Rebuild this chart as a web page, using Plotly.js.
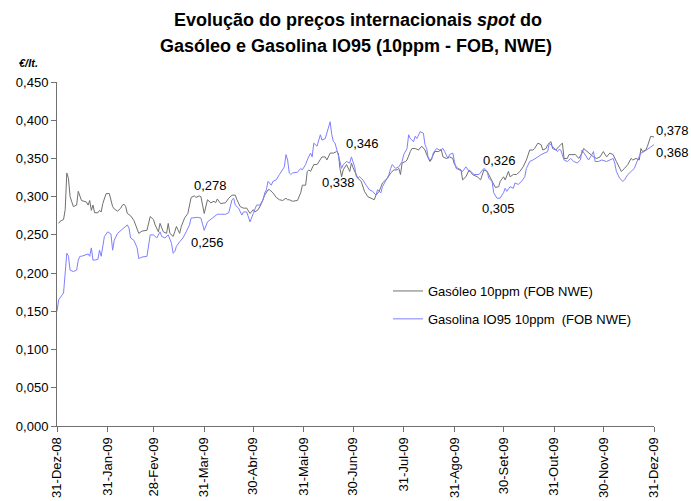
<!DOCTYPE html>
<html>
<head>
<meta charset="utf-8">
<script src="https://cdn.plot.ly/plotly-3.0.1.min.js"></script>
<style>html,body{margin:0;padding:0;background:#fff;}#chart{width:691px;height:501px;}</style>
</head>
<body>
<div id="chart"></div>
<script>
// Data: day offsets from 31-Dez-08 and prices (€/lt.)
const dataInicial = '2008-12-31';
const diasGasoleo = [1,2,4,5,6,7,8,10,12,13,15,18,19,20,21,22,23,25,26,27,28,30,32,34,35,37,39,40,41,42,43,44,45,47,49,50,52,55,57,59,60,62,63,65,67,68,69,71,72,73,75,76,78,80,82,84,85,87,88,89,90,92,94,96,97,98,100,103,105,107,109,110,112,114,116,118,120,121,123,125,127,129,130,132,134,136,138,140,141,142,144,147,149,150,152,153,154,155,157,159,161,162,164,165,167,169,171,172,173,174,175,177,179,180,181,183,184,186,188,190,192,194,195,197,199,202,204,206,208,209,210,211,213,214,216,217,219,221,223,225,226,228,229,231,233,235,236,238,240,242,243,245,247,248,250,252,254,257,259,261,263,264,266,268,270,271,273,274,276,277,279,281,283,285,287,289,291,292,294,296,297,299,300,302,303,305,307,309,310,312,313,315,317,319,321,322,324,326,328,330,332,334,336,338,340,342,344,345,347,349,351,352,354,356,357,358,360,361,363,365];
const gasoleo = [0.265,0.268,0.270,0.283,0.331,0.324,0.300,0.287,0.289,0.307,0.295,0.293,0.289,0.295,0.282,0.289,0.279,0.279,0.282,0.280,0.291,0.304,0.304,0.287,0.284,0.281,0.285,0.289,0.290,0.287,0.278,0.276,0.275,0.269,0.257,0.252,0.255,0.256,0.274,0.270,0.263,0.254,0.265,0.254,0.252,0.265,0.252,0.248,0.254,0.261,0.252,0.261,0.272,0.278,0.299,0.301,0.299,0.301,0.300,0.287,0.278,0.296,0.292,0.294,0.292,0.297,0.291,0.292,0.298,0.302,0.302,0.296,0.287,0.285,0.285,0.278,0.283,0.280,0.283,0.291,0.302,0.309,0.309,0.305,0.299,0.296,0.295,0.298,0.296,0.296,0.294,0.295,0.305,0.315,0.315,0.333,0.335,0.333,0.342,0.342,0.348,0.352,0.352,0.348,0.357,0.357,0.359,0.357,0.337,0.326,0.335,0.342,0.333,0.344,0.338,0.329,0.324,0.320,0.307,0.300,0.298,0.296,0.302,0.307,0.318,0.324,0.331,0.335,0.335,0.337,0.329,0.344,0.346,0.348,0.359,0.363,0.363,0.361,0.366,0.361,0.355,0.346,0.350,0.359,0.359,0.361,0.352,0.350,0.352,0.350,0.342,0.337,0.335,0.322,0.326,0.335,0.329,0.326,0.322,0.335,0.333,0.329,0.322,0.312,0.313,0.320,0.326,0.322,0.333,0.326,0.329,0.329,0.333,0.339,0.348,0.361,0.361,0.363,0.370,0.368,0.361,0.363,0.368,0.372,0.363,0.361,0.366,0.370,0.350,0.350,0.355,0.355,0.355,0.350,0.357,0.363,0.359,0.355,0.352,0.350,0.352,0.359,0.352,0.357,0.355,0.346,0.337,0.333,0.337,0.342,0.350,0.348,0.350,0.348,0.363,0.359,0.361,0.366,0.379,0.378];
const diasGasolina = [0,1,3,4,5,6,7,8,10,12,13,14,15,17,19,20,21,22,23,25,26,27,29,31,33,34,35,37,40,41,43,44,45,47,49,50,52,55,56,57,59,61,63,64,66,68,70,71,72,73,75,77,79,81,82,84,86,88,89,90,92,94,96,98,100,103,105,107,108,109,111,113,114,116,118,120,122,124,126,127,128,129,131,132,134,136,138,139,140,141,142,143,144,147,149,150,152,153,155,156,157,159,161,162,164,166,167,168,169,170,171,173,174,175,177,179,180,181,182,183,184,185,187,189,191,193,195,196,198,199,202,203,204,205,207,209,211,212,214,215,216,218,219,220,222,224,225,226,227,229,230,232,234,236,237,239,240,242,243,244,246,248,250,252,253,255,258,260,261,263,264,266,267,269,271,272,273,274,275,277,279,280,282,284,286,287,289,291,292,294,296,298,300,301,303,304,306,307,308,310,312,314,316,318,320,321,323,325,327,328,329,331,333,336,338,340,341,342,344,346,347,349,351,353,355,356,357,359,361,363,365];
const gasolina = [0.150,0.165,0.171,0.174,0.200,0.226,0.222,0.204,0.202,0.204,0.217,0.222,0.222,0.224,0.225,0.222,0.233,0.217,0.217,0.218,0.230,0.222,0.248,0.254,0.251,0.230,0.243,0.252,0.257,0.259,0.263,0.259,0.246,0.243,0.233,0.219,0.221,0.222,0.235,0.250,0.250,0.246,0.254,0.248,0.246,0.250,0.239,0.226,0.228,0.235,0.241,0.246,0.254,0.263,0.272,0.273,0.273,0.272,0.265,0.256,0.267,0.270,0.274,0.277,0.277,0.277,0.279,0.296,0.298,0.289,0.285,0.276,0.280,0.280,0.267,0.278,0.289,0.289,0.296,0.305,0.309,0.320,0.315,0.320,0.322,0.329,0.337,0.339,0.355,0.348,0.331,0.329,0.331,0.332,0.337,0.335,0.342,0.348,0.357,0.352,0.370,0.366,0.381,0.374,0.376,0.392,0.398,0.381,0.372,0.370,0.363,0.346,0.337,0.342,0.346,0.344,0.352,0.346,0.339,0.326,0.324,0.326,0.322,0.315,0.309,0.307,0.302,0.309,0.305,0.313,0.326,0.329,0.337,0.342,0.337,0.339,0.346,0.355,0.363,0.381,0.376,0.372,0.379,0.376,0.385,0.383,0.368,0.363,0.350,0.348,0.357,0.363,0.361,0.363,0.359,0.350,0.355,0.357,0.346,0.337,0.335,0.333,0.339,0.333,0.333,0.329,0.329,0.335,0.337,0.333,0.324,0.320,0.305,0.298,0.298,0.302,0.305,0.311,0.307,0.313,0.311,0.318,0.316,0.320,0.326,0.337,0.346,0.348,0.349,0.352,0.355,0.357,0.359,0.370,0.366,0.363,0.359,0.362,0.361,0.348,0.346,0.350,0.346,0.344,0.348,0.361,0.355,0.348,0.355,0.359,0.346,0.346,0.348,0.346,0.348,0.350,0.344,0.333,0.324,0.320,0.322,0.329,0.333,0.337,0.348,0.352,0.357,0.359,0.362,0.366,0.368];

const tickDatas = ['2008-12-31','2009-01-31','2009-02-28','2009-03-31','2009-04-30','2009-05-31','2009-06-30','2009-07-31','2009-08-31','2009-09-30','2009-10-31','2009-11-30','2009-12-31'];
const tickLabels = ['31-Dez-08','31-Jan-09','28-Fev-09','31-Mar-09','30-Abr-09','31-Mai-09','30-Jun-09','31-Jul-09','31-Ago-09','30-Set-09','31-Out-09','30-Nov-09','31-Dez-09'];

// value labels shown on the chart
const rotulos = ['0,278','0,256','0,338','0,346','0,326','0,305'];
const rotulosFinais = ['0,378','0,368'];

function dia(d){
  const t = Date.UTC(2008,11,31) + d*86400000;
  return new Date(t).toISOString().slice(0,19).replace('T',' ');
}

const FONT = 'Liberation Sans, Arial, Helvetica, sans-serif';

const traces = [
  {x: diasGasoleo.map(dia), y: gasoleo, type:'scatter', mode:'lines',
   name:'Gasóleo 10ppm (FOB NWE)', legendgroup:'a',
   line:{color:'#707070', width:1}},
  {x: diasGasolina.map(dia), y: gasolina, type:'scatter', mode:'lines',
   name:'Gasolina IO95 10ppm  (FOB NWE)', legendgroup:'b',
   line:{color:'#7f7fff', width:1}}
];

// label positions (day offset, y) placement only
const posRotulos = [[94.1,0.3145],[92.3,0.240],[172.4,0.318],[187,0.369],[270.8,0.347],[270.2,0.284]];
const ann = rotulos.map((t,i)=>({x: dia(posRotulos[i][0]), y: posRotulos[i][1], xref:'x', yref:'y', yanchor:'middle', text:t, showarrow:false, font:{family:FONT,size:13,color:'#000'}}));
ann.push({x:1.0, y:(426-130.7)/344, xref:'paper', yref:'paper', xanchor:'left', yanchor:'middle', text:rotulosFinais[0], showarrow:false, font:{family:FONT,size:13,color:'#000'}});
ann.push({x:1.0, y:(426-152)/344, xref:'paper', yref:'paper', xanchor:'left', yanchor:'middle', text:rotulosFinais[1], showarrow:false, font:{family:FONT,size:13,color:'#000'}});
ann.push({x:(358-57)/597, y:(426-20)/344, xref:'paper', yref:'paper', xanchor:'center', yanchor:'middle', text:'<b>Evolução do preços internacionais <i>spot</i> do</b>', showarrow:false, font:{family:FONT,size:18,color:'#000'}});
ann.push({x:(356-57)/597, y:(426-46)/344, xref:'paper', yref:'paper', xanchor:'center', yanchor:'middle', text:'<b>Gasóleo e Gasolina IO95 (10ppm - FOB, NWE)</b>', showarrow:false, font:{family:FONT,size:18,color:'#000'}});
ann.push({x:(17-57)/597, y:(426-63)/344, xref:'paper', yref:'paper', xanchor:'left', yanchor:'middle', text:'<b><i>€/lt.</i></b>', showarrow:false, font:{family:FONT,size:11,color:'#000'}});

const layout = {
  width:691, height:501,
  margin:{l:57, r:37, t:82, b:75},
  paper_bgcolor:'#fff', plot_bgcolor:'#fff',
  separators:',.',
  showlegend:true,
  legend:{x:(388-57)/597, y:(426-276)/344, xanchor:'left', yanchor:'top', bgcolor:'rgba(0,0,0,0)',
          font:{family:FONT,size:13,color:'#000'}, traceorder:'grouped', tracegroupgap:8},
  xaxis:{type:'date', range:[dia(0), dia(365)], showgrid:false, zeroline:false,
         showline:true, linecolor:'#707070', linewidth:1,
         tickmode:'array', tickvals:tickDatas, ticktext:tickLabels, tickangle:-90,
         ticks:'outside', ticklen:5, tickcolor:'#707070',
         tickfont:{family:FONT,size:13,color:'#000'}},
  yaxis:{range:[0,0.45], dtick:0.05, tick0:0, tickformat:'.3f', showgrid:false, zeroline:false,
         showline:true, linecolor:'#707070', linewidth:1,
         ticks:'outside', ticklen:5, tickcolor:'#707070',
         tickfont:{family:FONT,size:13,color:'#000'}},
  annotations: ann
};

Plotly.newPlot('chart', traces, layout, {staticPlot:true, displayModeBar:false});
</script>
</body>
</html>
